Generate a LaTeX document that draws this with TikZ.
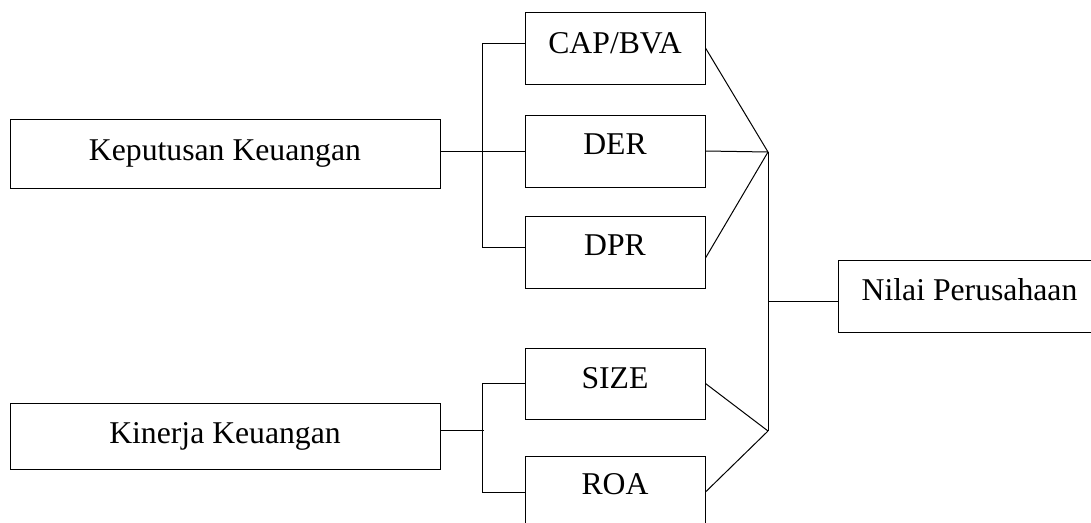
\documentclass[tikz,border=0pt]{standalone}
\usepackage{fontspec}
\setmainfont{Liberation Serif}
\begin{document}
\begin{tikzpicture}[x=1pt,y=-1pt,
  box/.style={draw, line width=1pt, inner sep=0pt, align=center,
    font=\fontsize{31.7}{38}\selectfont},
  conn/.style={line width=1pt}]
\clip (0,0) rectangle (1091,522);
% left boxes
\node[box, minimum width=430pt, minimum height=69pt, text height=41pt, text depth=28pt] (kk) at (225,153.5) {Keputusan Keuangan};
\node[box, minimum width=430pt, minimum height=66pt, text height=40pt, text depth=26pt] (kin) at (225,436) {Kinerja Keuangan};
% middle boxes
\node[box, minimum width=180pt, minimum height=72pt, text height=41pt, text depth=31pt] (cap) at (615,48) {CAP/BVA};
\node[box, minimum width=180pt, minimum height=72pt, text height=39pt, text depth=33pt] (der) at (615,151) {DER};
\node[box, minimum width=180pt, minimum height=72pt, text height=39pt, text depth=33pt] (dpr) at (615,252) {DPR};
\node[box, minimum width=180pt, minimum height=71pt, text height=40pt, text depth=31pt] (size) at (615,383.5) {SIZE};
\node[box, minimum width=180pt, minimum height=72pt, text height=38pt, text depth=34pt] (roa) at (615,492) {ROA};
% right box
\node[box, minimum width=263pt, minimum height=72pt, text height=40pt, text depth=32pt] (nilai) at (969.5,296) {Nilai Perusahaan};
% junctions
\coordinate (j1) at (768,152);
\coordinate (j2) at (768,431);
% left brackets
\draw[conn] (kk.east |- der.west) -- (der.west);
\draw[conn] ([yshift=5pt]cap.west) -- ++(-42,0) |- ([yshift=5pt]dpr.west);
\draw[conn] ([yshift=6pt]kin.east) -- ++(43,0);
\draw[conn] (size.west) -- ++(-42,0) |- (roa.west);
% right side
\draw[conn] (cap.east) -- (j1);
\draw[conn] (der.east) -- (j1);
\draw[conn] ([yshift=-6pt]dpr.east) -- (j1);
\draw[conn] (size.east) -- (j2);
\draw[conn] (roa.east) -- (j2);
\draw[conn] (j1) -- (j2);
\draw[conn] ([yshift=-5pt]nilai.west) -- ([yshift=-5pt]nilai.west -| j1);
\end{tikzpicture}
\end{document}
